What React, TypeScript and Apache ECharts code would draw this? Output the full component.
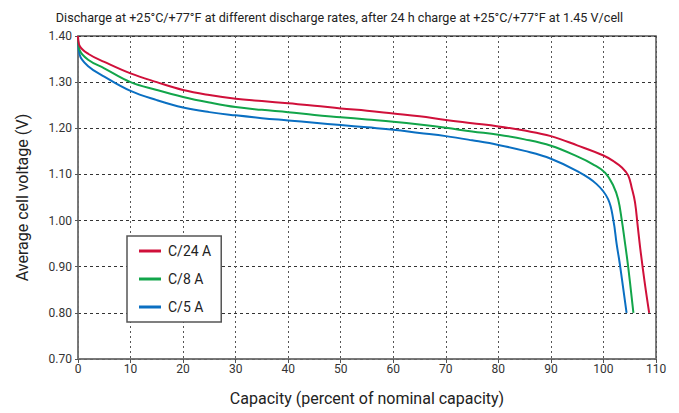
import React, { useEffect, useRef } from "react";
import * as echarts from "echarts";

const titleText =
  "Discharge at +25°C/+77°F at different discharge rates, after 24 h charge at +25°C/+77°F at 1.45 V/cell";
const xAxisName = "Capacity (percent of nominal capacity)";
const yAxisName = "Average cell voltage (V)";
const seriesNames = ["C/24 A", "C/8 A", "C/5 A"];
const seriesColors = ["#d0103a", "#12a54a", "#0a6fc2"];

const c24: [number, number][] = [
  [0, 1.4], [0.3, 1.379], [2, 1.361], [5, 1.344], [10, 1.319], [15, 1.3],
  [20, 1.283], [25, 1.272], [30, 1.264], [35, 1.259], [40, 1.254], [45, 1.249],
  [50, 1.243], [55, 1.238], [60, 1.232], [65, 1.226], [70, 1.218], [75, 1.211],
  [80, 1.204], [85, 1.195], [90, 1.183], [95, 1.163], [100, 1.141], [102, 1.128],
  [103.5, 1.115], [104.7, 1.098], [105.4, 1.07], [106, 1.04], [106.5, 0.99],
  [107, 0.94], [107.8, 0.87], [108.7, 0.8],
];
const c8: [number, number][] = [
  [0, 1.4], [0.3, 1.37], [2, 1.348], [5, 1.33], [10, 1.3], [15, 1.283],
  [20, 1.268], [25, 1.256], [30, 1.246], [35, 1.24], [40, 1.235], [45, 1.229],
  [50, 1.224], [55, 1.219], [60, 1.214], [65, 1.208], [70, 1.201], [75, 1.193],
  [80, 1.186], [85, 1.176], [90, 1.162], [95, 1.139], [98, 1.122], [100.3, 1.104],
  [101.9, 1.075], [102.8, 1.046], [103.5, 1.0], [104, 0.96], [104.7, 0.9],
  [105.7, 0.8],
];
const c5: [number, number][] = [
  [0, 1.4], [0.3, 1.36], [2, 1.334], [5, 1.312], [10, 1.281], [15, 1.261],
  [20, 1.245], [25, 1.235], [30, 1.228], [35, 1.222], [40, 1.217], [45, 1.212],
  [50, 1.207], [55, 1.202], [60, 1.197], [65, 1.19], [70, 1.183], [75, 1.174],
  [80, 1.164], [85, 1.151], [90, 1.134], [95, 1.107], [98.7, 1.079], [100.9, 1.046],
  [101.9, 1.0], [102.5, 0.95], [103.1, 0.907], [104.4, 0.8],
];
const seriesData = [c24, c8, c5];

const FONT = "Roboto, 'DejaVu Sans Condensed', sans-serif";

export default function App() {
  const ref = useRef<HTMLDivElement>(null);
  useEffect(() => {
    if (!ref.current) return;
    const chart = echarts.init(ref.current, undefined, { renderer: "svg" });
    chart.setOption({
      animation: false,
      backgroundColor: "#ffffff",
      textStyle: { fontFamily: FONT },
      title: {
        text: titleText,
        left: "center",
        top: 6,
        textStyle: { fontFamily: FONT, fontSize: 12.6, fontWeight: "normal", color: "#222" },
      },
      grid: {
        left: 78,
        right: 23,
        top: 36,
        bottom: 54,
        show: true,
        borderColor: "#555",
        borderWidth: 1.5,
        backgroundColor: "transparent",
      },
      legend: {
        orient: "vertical",
        left: 127,
        top: 236,
        padding: [7, 10, 7, 12],
        itemGap: 12,
        icon: "rect",
        itemWidth: 22,
        itemHeight: 3,
        borderColor: "#555",
        borderWidth: 1.5,
        backgroundColor: "#fff",
        textStyle: { fontFamily: FONT, fontSize: 14, color: "#222", lineHeight: 16, padding: [0, 0, 0, 2] },
        data: seriesNames,
      },
      xAxis: {
        type: "value",
        min: 0,
        max: 110,
        interval: 10,
        name: xAxisName,
        nameLocation: "middle",
        nameGap: 31,
        nameTextStyle: { fontFamily: FONT, fontSize: 16, color: "#222" },
        axisLine: { show: true, lineStyle: { color: "#777", width: 1.5 } },
        axisTick: { show: true, length: 4, lineStyle: { color: "#555" } },
        axisLabel: { fontFamily: FONT, fontSize: 12, color: "#333", margin: 4 },
        splitLine: { show: true, lineStyle: { color: "#555", type: [2, 3], width: 1 } },
      },
      yAxis: {
        type: "value",
        min: 0.7,
        max: 1.4,
        interval: 0.1,
        name: yAxisName,
        nameLocation: "middle",
        nameGap: 48,
        nameTextStyle: { fontFamily: FONT, fontSize: 16, color: "#222" },
        axisLine: { show: true, lineStyle: { color: "#777", width: 1.5 } },
        axisTick: { show: true, length: 3, lineStyle: { color: "#555" } },
        axisLabel: {
          fontFamily: FONT,
          fontSize: 12,
          color: "#333",
          margin: 6,
          formatter: (v: number) => v.toFixed(2),
        },
        splitLine: { show: true, lineStyle: { color: "#333", type: [3, 3], width: 1 } },
      },
      series: seriesNames.map((name, i) => ({
        name,
        type: "line",
        data: seriesData[i],
        showSymbol: false,
        symbol: "none",
        smooth: 0.4,
        color: seriesColors[i],
        lineStyle: { color: seriesColors[i], width: 2 },
        z: 5 - i,
      })),
    });
    return () => chart.dispose();
  }, []);
  return <div ref={ref} style={{ width: 679, height: 413, marginLeft: -8, marginTop: -8 }} />;
}
